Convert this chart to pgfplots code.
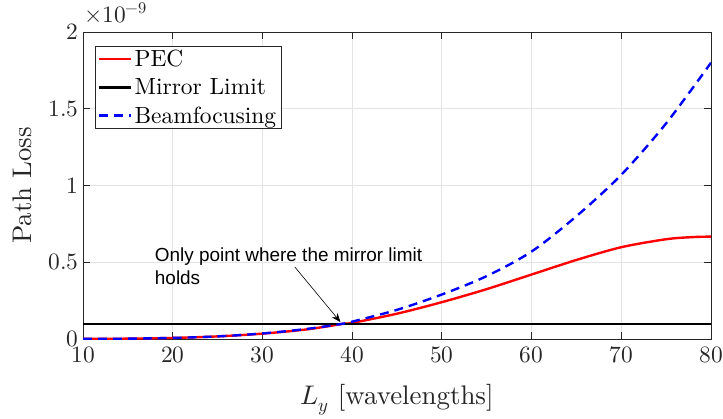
\documentclass[border=0pt]{standalone}
\usepackage{pgfplots}
\pgfplotsset{compat=1.18}
\usetikzlibrary{arrows.meta}
\usepackage{fontspec}
\usepackage{unicode-math}
\setmainfont{lmroman10-regular.otf}
\newfontfamily\annfont{Liberation Sans}
\definecolor{axgray}{RGB}{38,38,38}
\definecolor{gridgray}{RGB}{228,228,228}
\begin{document}
\begin{tikzpicture}
\begin{axis}[
  name=ax,
  scale only axis,
  width=628bp, height=307bp,
  xmin=10, xmax=80, ymin=0, ymax=2,
  xtick={10,20,...,80},
  ytick={0,0.5,1,1.5,2},
  yticklabel style={/pgf/number format/fixed},
  grid=major,
  major grid style={gridgray, line width=0.8pt},
  axis line style={axgray, line width=0.8pt},
  tick style={axgray, line width=0.8pt},
  tick align=inside,
  major tick length=7bp,
  ticklabel style={font=\fontsize{23.5}{26}\selectfont, text=axgray},
  xticklabel style={yshift=-4bp},
  yticklabel style={xshift=-1bp},
  xlabel={$L_y$ [wavelengths]},
  ylabel={Path Loss},
  label style={font=\fontsize{27}{30}\selectfont, text=axgray},
  xlabel style={yshift=-15bp},
  ylabel style={yshift=10bp},
  legend style={at={(rel axis cs:0.019,0.955)}, anchor=north west,
    font=\fontsize{23.5}{28}\selectfont, draw=axgray, line width=0.8pt,
    inner xsep=3pt, inner ysep=2pt, row sep=6.5pt, cells={anchor=west}},
  legend cell align=left,
  legend image post style={line width=2.3pt},
  legend image code/.code={\draw[#1] (0cm,0cm) -- (32bp,0cm);},
]
\addplot[red, line width=2.4pt, smooth] coordinates {
 (10,0.0004) (15,0.0023) (20,0.007) (25,0.017) (30,0.035) (35,0.063)
 (39,0.099) (40,0.105) (45,0.165) (50,0.24) (55,0.325) (60,0.42)
 (65,0.515) (70,0.598) (75,0.65) (78,0.664) (80,0.667)};
\addlegendentry{PEC}
\addplot[black, line width=2.3pt] coordinates {(10,0.1) (80,0.1)};
\addlegendentry{Mirror Limit}
\addplot[blue, line width=2.4pt, dash pattern=on 9pt off 6pt, smooth] coordinates {
 (10,0.0004) (15,0.0023) (20,0.007) (25,0.017) (30,0.036) (35,0.066)
 (39,0.1) (40,0.113) (45,0.19) (50,0.29) (55,0.41) (60,0.57)
 (65,0.80) (70,1.07) (75,1.405) (80,1.80)};
\addlegendentry{Beamfocusing}
\draw[-{Stealth[length=9pt,width=7pt]}, line width=0.6pt] (axis cs:33.6,0.47) -- (axis cs:38.7,0.11);
\node[anchor=north west, align=left, font=\annfont\fontsize{19}{23}\selectfont, inner sep=0pt]
  at (axis cs:18,0.598) {Only point where the mirror limit\\holds};
\end{axis}
\node[anchor=base west, font=\fontsize{23.5}{26}\selectfont, text=axgray, inner sep=0pt]
  at ([xshift=1bp,yshift=9.5bp]ax.north west) {$\times10^{-9}$};
\pgfresetboundingbox
\path ([shift={(-83bp,-79bp)}]ax.south west) rectangle ([shift={(12bp,32bp)}]ax.north east);
\end{tikzpicture}
\end{document}
